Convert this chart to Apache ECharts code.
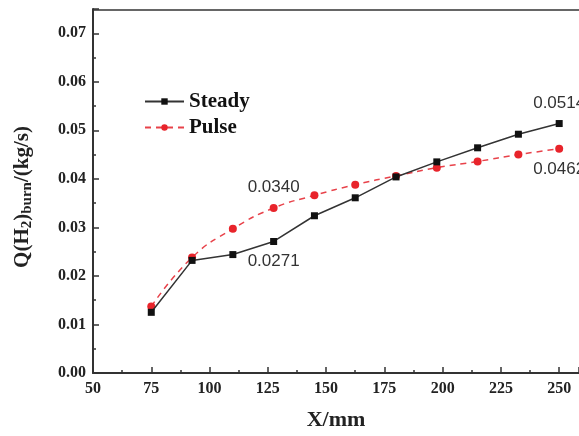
<!DOCTYPE html>
<html>
<head>
<meta charset="utf-8">
<script src="https://cdn.jsdelivr.net/npm/echarts@6/dist/echarts.min.js"></script>
<style>
  html, body { margin: 0; padding: 0; background: #fff; }
  #main { width: 579px; height: 436px; }
</style>
</head>
<body>
<div id="main"></div>
<script>
// X positions (mm)
var xPos = [75, 92.5, 110, 127.5, 145, 162.5, 180, 197.5, 215, 232.5, 250];
// Q(H2)burn, kg/s
var steady = [0.0125, 0.0232, 0.0244, 0.0271, 0.0324, 0.0361, 0.0404, 0.0435, 0.0464, 0.0492, 0.0514];
var pulse = [0.0137, 0.0238, 0.0297, 0.0340, 0.0366, 0.0388, 0.0406, 0.0423, 0.0436, 0.0450, 0.0462];
// points that carry a value label, with label side
var steadyLabels = { 3: 'bottom', 10: 'top' };
var pulseLabels = { 3: 'top', 10: 'bottom' };

var serif = '"Liberation Serif", "DejaVu Serif", serif';

function build(values, labels) {
  return xPos.map(function (x, i) {
    var item = { value: [x, values[i]] };
    if (labels[i]) {
      item.label = {
        show: true,
        position: labels[i],
        distance: 8,
        formatter: values[i].toFixed(4),
        fontFamily: '"Liberation Sans", Arial, sans-serif',
        fontSize: 17,
        color: '#333'
      };
    }
    return item;
  });
}

var myChart = echarts.init(document.getElementById('main'));

var option = {
  backgroundColor: '#fff',
  animation: false,
  grid: { left: 93, right: 0, top: 9, bottom: 61 },
  legend: {
    orient: 'vertical',
    left: 139,
    top: 86,
    itemWidth: 39,
    itemHeight: 8,
    itemGap: 5,
    textStyle: { fontFamily: serif, fontWeight: 'bold', fontSize: 21, color: '#111' },
    data: ['Steady', 'Pulse']
  },
  xAxis: {
    type: 'value',
    min: 50,
    max: 258.5,
    interval: 25,
    name: 'X/mm',
    nameLocation: 'middle',
    nameGap: 36,
    nameTextStyle: { fontFamily: serif, fontWeight: 'bold', fontSize: 22, color: '#222' },
    axisLine: { show: true, lineStyle: { color: '#333', width: 2 } },
    axisTick: { inside: true, length: 6, lineStyle: { color: '#333', width: 1.5 } },
    minorTick: { show: true, splitNumber: 2, length: 3, lineStyle: { color: '#333', width: 1.5 } },
    axisLabel: {
      margin: 8,
      fontFamily: serif, fontWeight: 'bold', fontSize: 16, color: '#222',
      showMaxLabel: false
    },
    splitLine: { show: false }
  },
  yAxis: {
    type: 'value',
    min: 0,
    max: 0.075,
    interval: 0.01,
    name: 'Q(H{sub|2}){sub|burn}/(kg/s)',
    nameLocation: 'middle',
    nameGap: 58,
    nameTextStyle: {
      fontFamily: serif, fontWeight: 'bold', fontSize: 21, color: '#222',
      padding: [0, 12, 0, 0],
      rich: {
        sub: { fontFamily: serif, fontWeight: 'bold', fontSize: 15, color: '#222', verticalAlign: 'bottom', padding: [9, 0, 0, 0] }
      }
    },
    axisLine: { show: true, lineStyle: { color: '#333', width: 2 } },
    axisTick: { inside: true, length: 6, lineStyle: { color: '#333', width: 1.5 } },
    minorTick: { show: true, splitNumber: 2, length: 3, lineStyle: { color: '#333', width: 1.5 } },
    axisLabel: {
      margin: 7,
      fontFamily: serif, fontWeight: 'bold', fontSize: 16, color: '#222',
      formatter: function (v) { return v.toFixed(2); },
      showMaxLabel: false
    },
    splitLine: { show: false }
  },
  series: [
    {
      name: 'Steady',
      type: 'line',
      data: build(steady, steadyLabels),
      symbol: 'rect',
      symbolSize: 7,
      itemStyle: { color: '#111' },
      lineStyle: { color: '#333', width: 1.5 },
      z: 3
    },
    {
      name: 'Pulse',
      type: 'line',
      smooth: true,
      data: build(pulse, pulseLabels),
      symbol: 'circle',
      symbolSize: 8,
      itemStyle: { color: '#e8242b' },
      lineStyle: { color: '#e8424a', width: 1.5, type: [6, 5] },
      z: 2
    }
  ],
  graphic: [
    // top frame line of the plot box
    { type: 'line', shape: { x1: 93, y1: 10, x2: 579, y2: 10 }, style: { stroke: '#666', lineWidth: 2 } }
  ]
};

myChart.setOption(option);
</script>
</body>
</html>
